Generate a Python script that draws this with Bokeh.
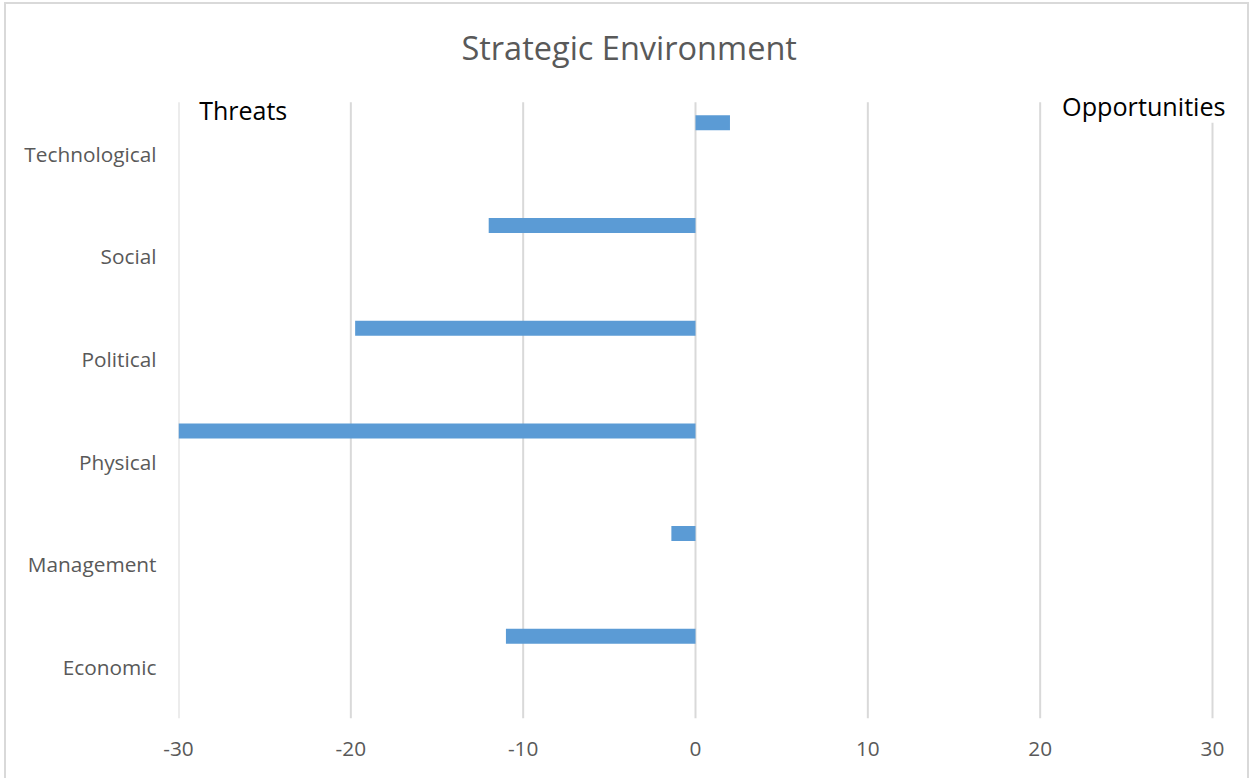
import numpy as np
from bokeh.plotting import figure
from bokeh.models import ColumnDataSource, Range1d, FixedTicker, Label
from bokeh.embed import file_html
from bokeh.resources import INLINE

# Strategic environment scores: negative = threat, positive = opportunity
categories = ["Economic", "Management", "Physical", "Political", "Social", "Technological"]
scores = [-11.0, -1.4, -30.0, -19.75, -12.0, 2.0]
x_ticks = [-30, -20, -10, 0, 10, 20, 30]
x_tick_labels = ["-30", "-20", "-10", "0", "10", "20", "30"]

FONT = "Open Sans"
GREY_TEXT = "#595959"
GRID = "#d9d9d9"
BAR = "#5b9bd5"

# category bands are one unit tall; band centres carry the axis labels
centres = np.arange(len(categories)) + 0.5
n_cat = len(categories)

source = ColumnDataSource(data=dict(
    y=centres + 0.3,          # bars sit in the upper part of each band
    score=scores,
))

# the frame runs to the top and right edges so the captions stay inside it
p = figure(
    width=1245, height=778,
    x_range=Range1d(-30, 32.263),
    y_range=Range1d(0, 6.951),
    output_backend="svg",
    toolbar_location=None,
    min_border_left=172, min_border_right=0,
    min_border_top=0, min_border_bottom=64,
)
p.styles = {"margin-left": "4px", "margin-top": "2px", "border": "2px solid #d9d9d9"}

p.outline_line_color = None
p.background_fill_color = "white"
p.border_fill_color = "white"
p.xgrid.grid_line_color = None
p.ygrid.grid_line_color = None

# vertical value gridlines spanning the category bands
p.segment(x0=x_ticks, y0=0, x1=x_ticks, y1=n_cat, line_color=GRID, line_width=2)

p.hbar(y="y", left=0, right="score", height=0.146, source=source,
       fill_color=BAR, line_color=None)

p.xaxis.ticker = FixedTicker(ticks=x_ticks)
p.xaxis.major_label_overrides = dict(zip(x_ticks, x_tick_labels))
p.yaxis.ticker = FixedTicker(ticks=list(centres))
p.yaxis.major_label_overrides = {float(c): name for c, name in zip(centres, categories)}
for ax in (p.xaxis[0], p.yaxis[0]):
    ax.axis_line_color = None
    ax.major_tick_line_color = None
    ax.minor_tick_line_color = None
    ax.major_tick_out = 0
    ax.major_tick_in = 0
    ax.major_label_text_font = FONT
    ax.major_label_text_font_size = "20.8px"
    ax.major_label_text_color = GREY_TEXT
p.xaxis.major_label_standoff = 23
p.yaxis.major_label_standoff = 22

# chart title and side captions
p.add_layout(Label(x=-3.85, y=6.533, text="Strategic Environment",
                   text_font=FONT, text_font_size="32.5px", text_color=GREY_TEXT,
                   text_align="center", text_baseline="middle"))
p.add_layout(Label(x=-28.8, y=5.922, text="Threats",
                   text_font=FONT, text_font_size="25px", text_color="black",
                   text_align="left", text_baseline="middle"))
p.add_layout(Label(x=21.27, y=5.966, text="Opportunities",
                   background_fill_color="white",
                   text_font=FONT, text_font_size="25.2px", text_color="black",
                   text_align="left", text_baseline="middle"))

open("out.html", "w").write(file_html(p, INLINE))
